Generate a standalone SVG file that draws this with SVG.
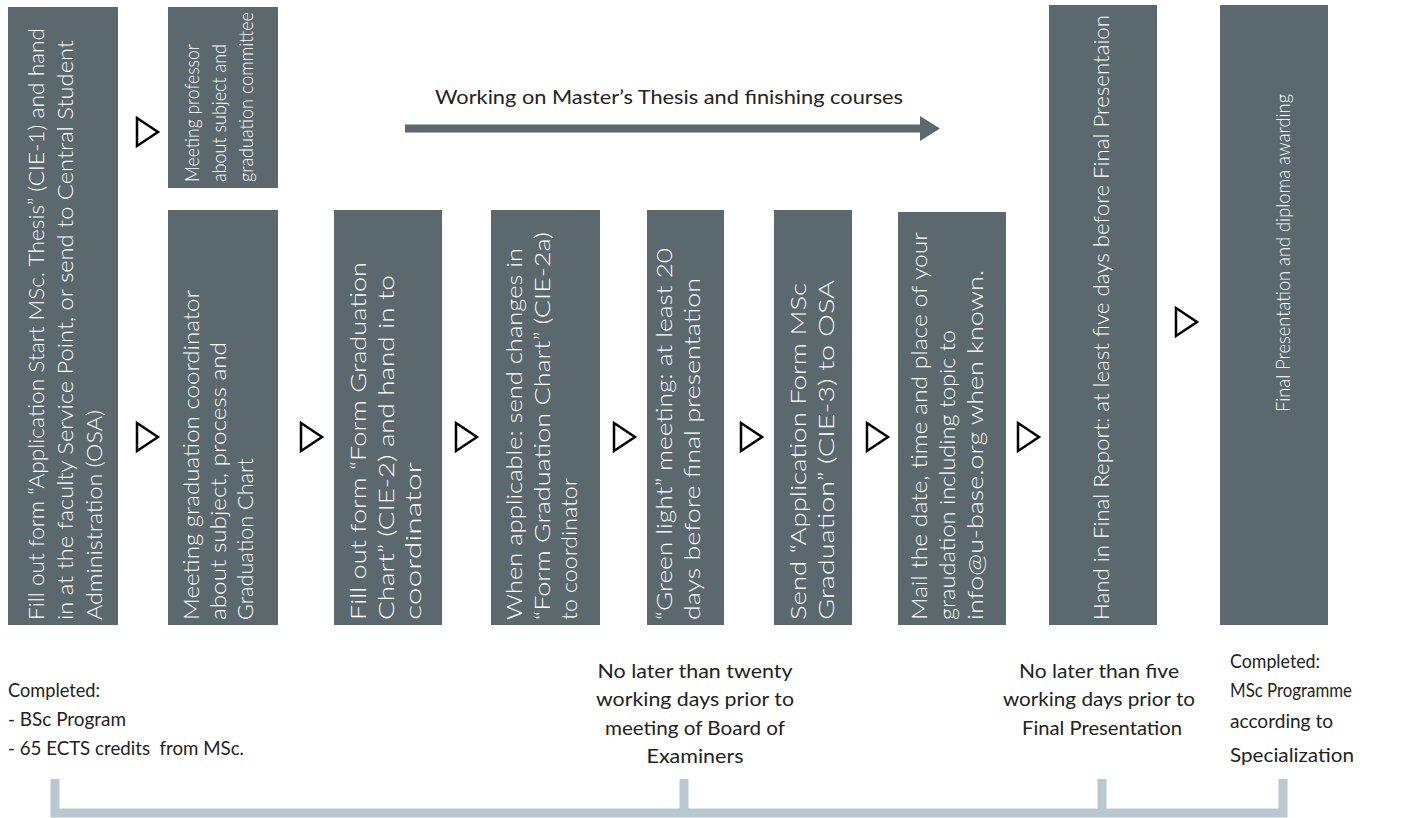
<svg xmlns="http://www.w3.org/2000/svg" width="1402" height="818" viewBox="0 0 1402 818">
<style>
.box{fill:#5b686d}
.bt{font-family:Lato,"Open Sans","Liberation Sans",sans-serif;font-weight:300;font-size:22px;fill:#ffffff}
.sm{font-size:19.5px}
.lt{font-family:Lato,"Open Sans","Liberation Sans",sans-serif;font-weight:400;font-size:20px;fill:#222222}
.c{text-anchor:middle}
.tri{fill:#ffffff;stroke:#000000;stroke-width:2.5;stroke-linejoin:miter}
.br{fill:none;stroke:#b9c9d1;stroke-width:9}
</style>
<defs>
<path id="tri" class="tri" d="M-10,-14 L11,0 L-10,14 Z"/>
</defs>
<rect width="1402" height="818" fill="#ffffff"/>

<g id="n1">
<rect class="box" x="8" y="7" width="110" height="618"/>
<text class="bt" lengthAdjust="spacingAndGlyphs" textLength="592" transform="translate(44,620) rotate(-90)">Fill out form “Application Start MSc. Thesis” (CIE-1) and hand</text>
<text class="bt" lengthAdjust="spacingAndGlyphs" textLength="580" transform="translate(73,620) rotate(-90)">in at the faculty Service Point, or send to Central Student</text>
<text class="bt" lengthAdjust="spacingAndGlyphs" textLength="210" transform="translate(102,620) rotate(-90)">Administration (OSA)</text>
</g>
<g id="n2">
<rect class="box" x="168" y="7" width="110" height="181"/>
<text class="bt sm" lengthAdjust="spacingAndGlyphs" textLength="138" transform="translate(199,182) rotate(-90)">Meeting professor</text>
<text class="bt sm" lengthAdjust="spacingAndGlyphs" textLength="138" transform="translate(226,182) rotate(-90)">about subject and</text>
<text class="bt sm" lengthAdjust="spacingAndGlyphs" textLength="170" transform="translate(253,182) rotate(-90)">graduation committee</text>
</g>
<g id="n3">
<rect class="box" x="168" y="210" width="110" height="415"/>
<text class="bt" lengthAdjust="spacingAndGlyphs" textLength="330" transform="translate(199,620) rotate(-90)">Meeting graduation coordinator</text>
<text class="bt" lengthAdjust="spacingAndGlyphs" textLength="278" transform="translate(226,620) rotate(-90)">about subject, process and</text>
<text class="bt" lengthAdjust="spacingAndGlyphs" textLength="162" transform="translate(253,620) rotate(-90)">Graduation Chart</text>
</g>
<g id="n4">
<rect class="box" x="334" y="210" width="108" height="415"/>
<text class="bt" lengthAdjust="spacingAndGlyphs" textLength="358" transform="translate(366,620) rotate(-90)">Fill out form “Form Graduation</text>
<text class="bt" lengthAdjust="spacingAndGlyphs" textLength="345" transform="translate(394,620) rotate(-90)">Chart” (CIE-2) and hand in to</text>
<text class="bt" lengthAdjust="spacingAndGlyphs" textLength="158" transform="translate(421,620) rotate(-90)">coordinator</text>
</g>
<g id="n5">
<rect class="box" x="491" y="210" width="109" height="415"/>
<text class="bt" lengthAdjust="spacingAndGlyphs" textLength="372" transform="translate(522,620) rotate(-90)">When applicable: send changes in</text>
<text class="bt" lengthAdjust="spacingAndGlyphs" textLength="388" transform="translate(550,620) rotate(-90)">“Form Graduation Chart” (CIE-2a)</text>
<text class="bt" lengthAdjust="spacingAndGlyphs" textLength="142" transform="translate(577,620) rotate(-90)">to coordinator</text>
</g>
<g id="n6">
<rect class="box" x="647" y="210" width="77" height="415"/>
<text class="bt" lengthAdjust="spacingAndGlyphs" textLength="372" transform="translate(672,620) rotate(-90)">“Green light” meeting: at least 20</text>
<text class="bt" lengthAdjust="spacingAndGlyphs" textLength="342" transform="translate(700,620) rotate(-90)">days before final presentation</text>
</g>
<g id="n7">
<rect class="box" x="774" y="210" width="78" height="415"/>
<text class="bt" lengthAdjust="spacingAndGlyphs" textLength="337" transform="translate(806,620) rotate(-90)">Send “Application Form MSc</text>
<text class="bt" lengthAdjust="spacingAndGlyphs" textLength="340" transform="translate(834,620) rotate(-90)">Graduation” (CIE-3) to OSA</text>
</g>
<g id="n8">
<rect class="box" x="898" y="212" width="108" height="413"/>
<text class="bt" lengthAdjust="spacingAndGlyphs" textLength="388" transform="translate(927,620) rotate(-90)">Mail the date, time and place of your</text>
<text class="bt" lengthAdjust="spacingAndGlyphs" textLength="290" transform="translate(955,620) rotate(-90)">graudation including topic to</text>
<text class="bt" lengthAdjust="spacingAndGlyphs" textLength="350" transform="translate(983,620) rotate(-90)">info@u-base.org when known.</text>
</g>
<g id="n9">
<rect class="box" x="1049" y="5" width="108" height="620"/>
<text class="bt" lengthAdjust="spacingAndGlyphs" textLength="605" transform="translate(1109,620) rotate(-90)">Hand in Final Report: at least five days before Final Presentaion</text>
</g>
<g id="n10">
<rect class="box" x="1220" y="5" width="108" height="620"/>
<text class="bt sm" lengthAdjust="spacingAndGlyphs" textLength="318" transform="translate(1290,412) rotate(-90)">Final Presentation and diploma awarding</text>
</g>

<g id="connectors">
<use href="#tri" x="147" y="132"/>
<use href="#tri" x="147" y="437"/>
<use href="#tri" x="311" y="437"/>
<use href="#tri" x="466" y="437"/>
<use href="#tri" x="624" y="437"/>
<use href="#tri" x="751" y="437"/>
<use href="#tri" x="877" y="437"/>
<use href="#tri" x="1028" y="437"/>
<use href="#tri" x="1186" y="322"/>
<path d="M405,124.5 H920 V116 L940,128.5 L920,141 V132.5 H405 Z" fill="#5b686d"/>
<text class="lt" x="435" y="104" lengthAdjust="spacingAndGlyphs" textLength="468">Working on Master’s Thesis and finishing courses</text>
</g>

<g id="notes">
<text class="lt" x="8" y="697" lengthAdjust="spacingAndGlyphs" textLength="92">Completed:</text>
<text class="lt" x="8" y="726" lengthAdjust="spacingAndGlyphs" textLength="118">- BSc Program</text>
<text class="lt" x="8" y="755" lengthAdjust="spacingAndGlyphs" textLength="236" xml:space="preserve">- 65 ECTS credits  from MSc.</text>
<text class="lt c" x="695" y="678" lengthAdjust="spacingAndGlyphs" textLength="195">No later than twenty</text>
<text class="lt c" x="695" y="706" lengthAdjust="spacingAndGlyphs" textLength="198">working days prior to</text>
<text class="lt c" x="695" y="735" lengthAdjust="spacingAndGlyphs" textLength="180">meeting of Board of</text>
<text class="lt c" x="695" y="763" lengthAdjust="spacingAndGlyphs" textLength="97">Examiners</text>
<text class="lt c" x="1099" y="678" lengthAdjust="spacingAndGlyphs" textLength="160">No later than five</text>
<text class="lt c" x="1099" y="706" lengthAdjust="spacingAndGlyphs" textLength="192">working days prior to</text>
<text class="lt c" x="1102" y="735" lengthAdjust="spacingAndGlyphs" textLength="160">Final Presentation</text>
<text class="lt" x="1230" y="668" lengthAdjust="spacingAndGlyphs" textLength="90">Completed:</text>
<text class="lt" x="1230" y="697" lengthAdjust="spacingAndGlyphs" textLength="122">MSc Programme</text>
<text class="lt" x="1230" y="728" lengthAdjust="spacingAndGlyphs" textLength="103">according to</text>
<text class="lt" x="1230" y="762" lengthAdjust="spacingAndGlyphs" textLength="124">Specialization</text>
</g>

<g id="bracket">
<path class="br" d="M55,779 V813 H1283 V779 M684,779 V813 M1102,779 V813"/>
</g>
</svg>
